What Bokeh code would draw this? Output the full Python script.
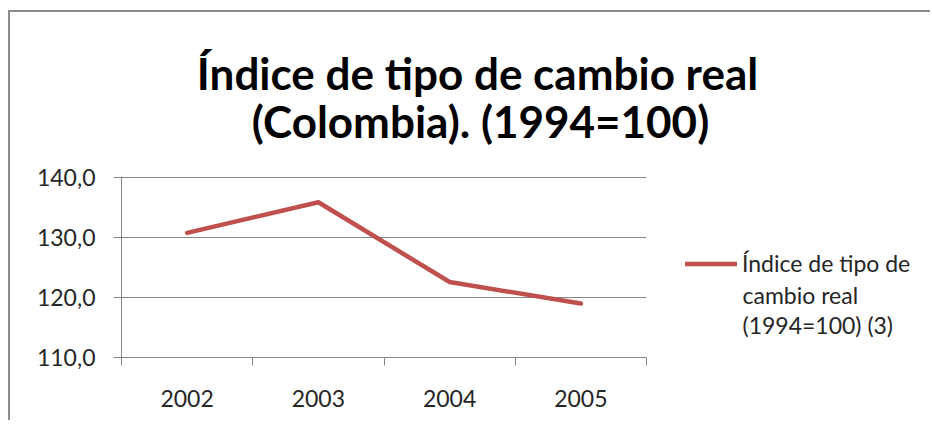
from bokeh.plotting import figure
from bokeh.layouts import column, row
from bokeh.models import (FactorRange, Range1d, LinearAxis, CategoricalAxis, FixedTicker,
                          CustomJSTickFormatter, Legend, LegendItem, Label,
                          ColumnDataSource)
from bokeh.embed import file_html
from bokeh.resources import INLINE

# ---- data ----
years = ["2002", "2003", "2004", "2005"]
index_values = [130.8, 135.9, 122.6, 119.0]
y_ticks = [110, 120, 130, 140]
title_lines = ["Índice de tipo de cambio real", "(Colombia). (1994=100)"]
legend_lines = ["Índice de tipo de", "cambio real", "(1994=100) (3)"]

GRAY = "#868686"
TEXT = "#262626"
RED = "#C0504D"
FONT = "Lato"

src = ColumnDataSource(data=dict(year=years, value=index_values))

ROW_H = 268
TOP = 24
BOTTOM = 63


def blank(width, height, ymax, **kw):
    f = figure(width=width, height=height, title=None,
               x_range=Range1d(0, width), y_range=Range1d(ymax, 0),
               output_backend="svg", toolbar_location=None,
               x_axis_location=None, y_axis_location=None, **kw)
    f.grid.visible = False
    f.outline_line_color = None
    f.background_fill_color = "white"
    f.border_fill_color = "white"
    return f


# ---- title panel ----
pt = blank(920, 140, 140, min_border=0)
pt.add_layout(Label(x=467, y=60, text=title_lines[0], text_align="center",
                    text_baseline="middle", text_font=FONT, text_font_style="bold",
                    text_font_size="44px", text_color="black"))
pt.add_layout(Label(x=470, y=108, text=title_lines[1], text_align="center",
                    text_baseline="middle", text_font=FONT, text_font_style="bold",
                    text_font_size="44px", text_color="black"))

# ---- main plot ----
p = figure(width=650, height=ROW_H, title=None,
           x_range=FactorRange(factors=years, range_padding=0, factor_padding=0),
           y_range=Range1d(110, 140.2),
           output_backend="svg", toolbar_location=None,
           x_axis_location=None, y_axis_location=None,
           min_border_left=111, min_border_right=14,
           min_border_top=TOP, min_border_bottom=BOTTOM)
p.outline_line_color = None
p.background_fill_color = "white"
p.border_fill_color = "white"

p.xgrid.grid_line_color = None
p.ygrid.ticker = FixedTicker(ticks=y_ticks)
p.ygrid.grid_line_color = GRAY
p.ygrid.grid_line_width = 1

yax = LinearAxis(ticker=FixedTicker(ticks=y_ticks),
                 formatter=CustomJSTickFormatter(code="return tick.toFixed(1).replace('.', ',');"),
                 axis_line_color=GRAY, major_tick_line_color=GRAY,
                 major_tick_in=0, major_tick_out=8, minor_tick_line_color=None,
                 major_label_standoff=18,
                 major_label_text_font=FONT, major_label_text_font_size="23px",
                 major_label_text_color=TEXT)
p.add_layout(yax, "left")

tick_axis = LinearAxis(ticker=FixedTicker(ticks=list(range(len(years) + 1))),
                       formatter=CustomJSTickFormatter(code="return '';"),
                       axis_line_color=GRAY, major_tick_line_color=GRAY,
                       major_tick_in=0, major_tick_out=8, minor_tick_line_color=None,
                       major_label_standoff=0, major_label_text_font_size="1px")
p.add_layout(tick_axis, "below")

lab_axis = CategoricalAxis(axis_line_color=None, major_tick_line_color=None,
                           major_tick_in=0, major_tick_out=0,
                           major_label_standoff=24,
                           major_label_text_font=FONT, major_label_text_font_size="23px",
                           major_label_text_color=TEXT)
p.add_layout(lab_axis, "below")

p.line(x="year", y="value", source=src, line_color=RED, line_width=4.5,
       line_join="round", line_cap="round")

# ---- legend panel (frame aligned with the main plot's frame) ----
pl = blank(270, ROW_H, ROW_H - TOP - BOTTOM, min_border_left=0, min_border_right=0,
           min_border_top=TOP, min_border_bottom=BOTTOM)
# same series as the main plot; its points fall outside this panel, only the key is shown
lr = pl.line(x="year", y="value", source=src, line_color=RED, line_width=4.5,
             line_cap="round")
legend = Legend(items=[LegendItem(label=legend_lines[0], renderers=[lr])],
                location=(25, 80), orientation="vertical",
                glyph_width=52, glyph_height=25, label_standoff=5,
                padding=0, margin=0, spacing=0,
                border_line_color=None, background_fill_alpha=0,
                label_text_font=FONT, label_text_font_size="23px",
                label_text_color=TEXT)
pl.add_layout(legend, "center")
for i, txt in enumerate(legend_lines[1:]):
    pl.add_layout(Label(x=82, y=118 + 30 * i, text=txt, text_align="left",
                        text_baseline="middle", text_font=FONT,
                        text_font_size="23px", text_color=TEXT))

layout = column(pt, row(p, pl, spacing=0), spacing=0)
layout.margin = (10, 0, 0, 8)
layout.styles = {"border-left": "2px solid #8c8c8c", "border-top": "2px solid #8c8c8c"}

open("out.html", "w").write(file_html(layout, INLINE))
